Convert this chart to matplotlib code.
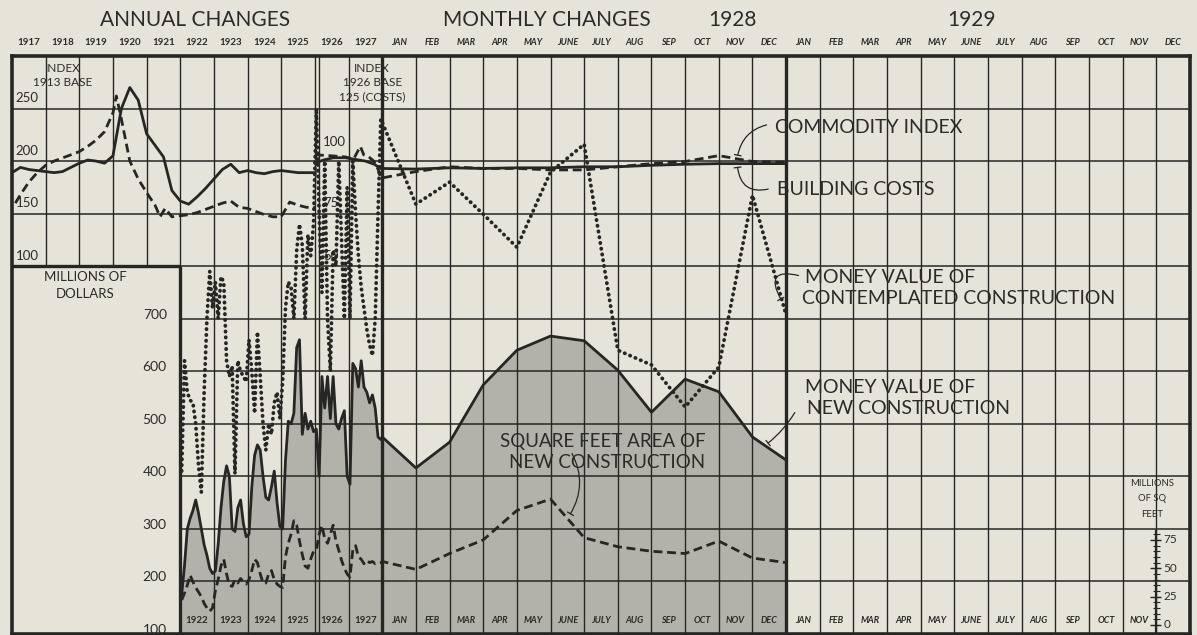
import numpy as np
import matplotlib.pyplot as plt

plt.rcParams['font.family'] = ['Lato', 'DejaVu Sans']

paper = '#e6e4d9'
ink = '#262624'
shade = '#b2b1aa'

# column headings
year_heads = ['1917', '1918', '1919', '1920', '1921', '1922', '1923', '1924', '1925', '1926', '1927']
month_heads = ['JAN', 'FEB', 'MAR', 'APR', 'MAY', 'JUNE', 'JULY', 'AUG', 'SEP', 'OCT', 'NOV', 'DEC']
bottom_years = ['1922', '1923', '1924', '1925', '1926', '1927']

# index numbers, 1913 base (1917-1925)
b13_dates = np.arange(1917, 1926.01, 0.25)
building_1913 = [189, 194, 192, 191, 190, 189, 190, 194, 198, 201, 200, 198, 205, 250, 270, 258,
                 226, 215, 204, 172, 162, 159, 166, 174, 183, 192, 197, 189, 191, 189, 188, 190,
                 191, 190, 189, 189, 189]
c13_dates = [1917.1, 1917.25, 1917.5, 1917.75, 1918.0, 1918.25, 1918.5, 1918.75, 1919.0, 1919.25,
             1919.5, 1919.75, 1920.0, 1920.1, 1920.25, 1920.5, 1920.75, 1921.0, 1921.25, 1921.4,
             1921.55, 1921.75, 1922.0, 1922.25, 1922.5, 1922.75, 1923.0, 1923.25, 1923.5, 1923.75,
             1924.0, 1924.25, 1924.5, 1924.75, 1925.0, 1925.25, 1925.5, 1925.75, 1926.0]
commodity_1913 = [160, 168, 180, 189, 196, 200, 203, 206, 209, 214, 220, 228, 246, 262, 240, 200,
                  183, 170, 158, 147, 155, 147, 148, 149, 151, 154, 157, 160, 162, 156, 155, 152,
                  149, 147, 147, 161, 158, 156, 156]

# index numbers, 1926 base (1926-1927)
b26_dates = [1926.0, 1926.25, 1926.55, 1926.9, 1927.2, 1927.5, 1927.78, 1927.93]
building_1926 = [99, 100.5, 101.6, 101.6, 100.8, 100, 98.4, 96.5]
c26_dates = [1926.0, 1926.5, 1926.9, 1927.15, 1927.35, 1927.45, 1927.6, 1927.75, 1927.88, 1927.95]
commodity_1926 = [103, 102.5, 102, 101, 107, 103, 102, 100, 96, 92]

# 1928, month by month (start of Jan .. end of Dec)
building_1928 = [96.5, 96.2, 96.8, 96.5, 96.8, 96.8, 97.3, 97.3, 98, 98.5, 98.8, 98.8, 98.8]
commodity_1928 = [92, 95, 97.3, 96.5, 96.5, 95.8, 95.8, 97.3, 98.8, 99.8, 102.6, 99.8, 99.5]

# millions of dollars, monthly 1922-1927
new_construction = [
    175, 230, 300, 320, 335, 355, 330, 300, 270, 250, 225, 215,
    220, 270, 340, 390, 420, 400, 300, 295, 340, 355, 310, 285,
    290, 380, 440, 460, 450, 400, 360, 355, 380, 410, 350, 305,
    300, 430, 505, 500, 520, 645, 660, 480, 520, 490, 505, 485,
    490, 400, 590, 530, 590, 510, 590, 500, 490, 510, 525, 400,
    385, 615, 605, 570, 620, 570, 560, 540, 555, 530, 475, 470]
contemplated = [
    410, 620, 560, 545, 540, 500, 420, 370, 560, 700, 790, 720,
    770, 700, 780, 770, 620, 590, 610, 405, 620, 600, 590, 580,
    660, 600, 520, 675, 590, 500, 450, 500, 480, 540, 560, 510,
    580, 720, 770, 760, 700, 830, 880, 840, 700, 860, 820, 880,
    1100, 900, 750, 1000, 700, 600, 830, 800, 1000, 850, 700, 950,
    700, 1000, 900, 820, 760, 720, 680, 650, 630, 700, 900, 1080]
new_1928 = [475, 416, 465, 574, 640, 667, 658, 602, 522, 585, 561, 475, 431]
contemplated_1928 = [1074, 918, 960, 899, 836, 979, 1032, 640, 612, 532, 608, 935, 707]

# millions of square feet
sqft = [
    22, 28, 35, 44, 38, 33, 29, 25, 19, 15, 12, 15,
    30, 40, 52, 58, 45, 35, 34, 40, 37, 41, 38, 36,
    40, 48, 58, 55, 45, 37, 37, 45, 48, 40, 36, 34,
    33, 60, 72, 80, 92, 88, 74, 62, 52, 50, 58, 65,
    66, 80, 88, 76, 72, 80, 88, 74, 66, 57, 50, 45,
    42, 66, 70, 60, 58, 54, 57, 55, 56, 54, 55, 55]
sqft_1928 = [56, 49, 63, 75, 101, 111, 77, 69, 65, 63, 74, 59, 55]


def col(year):
    # one column per year up to 1928, one per month afterwards
    return np.asarray(year, dtype=float) - 1917


x_monthly = col(1922 + (np.arange(72) + 0.5) / 12)
x_1928 = 11 + np.arange(13)

fig = plt.figure(figsize=(11.97, 6.35), dpi=100, facecolor=paper)
ax = fig.add_axes([12 / 1197, 1 / 635, 1178 / 1197, 578 / 635])
ax.set_facecolor(paper)
ax.set_xlim(0, 35)
ax.set_ylim(100, 1200)
ax.set_xticks([])
ax.set_yticks([])
for s in ax.spines.values():
    s.set_linewidth(2.6)
    s.set_color(ink)


def overlay(lo, hi):
    t = ax.twinx()
    t.set_ylim(lo, hi)
    t.set_yticks([])
    t.patch.set_visible(False)
    for s in t.spines.values():
        s.set_visible(False)
    return t


ax13 = overlay(-250, 300)
ax26 = overlay(-125, 150)
axsq = overlay(-8, 502)

# grid: the lower left corner is left blank for the dollar scale
for v in range(200, 1200, 100):
    ax.hlines(v, 0 if v >= 800 else 5, 35, color=ink, lw=1.1, zorder=2)
for c in range(1, 35):
    ax.vlines(c, 800 if c < 5 else 100, 1200, color=ink, lw=1.0, zorder=2)
ax.hlines(800, 0, 5, color=ink, lw=2.4, zorder=3)
ax.vlines(5, 100, 800, color=ink, lw=2.4, zorder=3)
ax.vlines([11, 23], 100, 1200, color=ink, lw=2.4, zorder=3)
ax.vlines(9.12, 100, 1200, color=ink, lw=1.0, zorder=2)

# building volume
x_all = np.r_[x_monthly, x_1928]
new_all = np.r_[new_construction, new_1928]
ax.fill_between(x_all, 100, new_all, color=shade, lw=0, zorder=1)
ax.plot(x_all, new_all, color=ink, lw=2.0, zorder=4)
ax.plot(x_all, np.r_[contemplated, contemplated_1928], color=ink, lw=2.7,
        ls=(0, (0.1, 1.45)), dash_capstyle='round', zorder=4)
axsq.plot(x_all, np.r_[sqft, sqft_1928], color=ink, lw=2.0, ls=(0, (3.2, 1.7)))

# price indexes
ax13.plot(col(b13_dates), building_1913, color=ink, lw=2.0)
ax13.plot(col(c13_dates), commodity_1913, color=ink, lw=2.0, ls=(0, (3.2, 1.7)))
ax26.plot(np.r_[col(b26_dates), x_1928], np.r_[building_1926, building_1928], color=ink, lw=2.0)
ax26.plot(np.r_[col(c26_dates), x_1928], np.r_[commodity_1926, commodity_1928], color=ink,
          lw=2.0, ls=(0, (3.2, 1.7)))

txt = dict(color='#2b2b29')

# headings above the frame
for x, lab in [(5.45, 'ANNUAL CHANGES'), (15.9, 'MONTHLY CHANGES'), (21.4, '1928'),
               (28.5, '1929')]:
    ax.text(x, 1268, lab, ha='center', va='center', fontsize=15, **txt)
for i, lab in enumerate(year_heads):
    ax.text(i + 0.5, 1226, lab, ha='center', va='center', fontsize=7, fontweight='bold', **txt)
for i, lab in enumerate(month_heads * 2):
    ax.text(11 + i + 0.5, 1226, lab, ha='center', va='center', fontsize=6.5, style='italic',
            fontweight='bold', **txt)

# labels along the bottom row
for i, lab in enumerate(bottom_years):
    ax.text(5 + i + 0.5, 126, lab, ha='center', va='center', fontsize=7, fontweight='bold',
            zorder=5, **txt)
for i, lab in enumerate(month_heads + month_heads[:11]):
    ax.text(11 + i + 0.5, 126, lab, ha='center', va='center', fontsize=6.5, style='italic',
            fontweight='bold', zorder=5, **txt)

# index scales
ax.text(1.5, 1177, 'INDEX', ha='center', va='center', fontsize=8.5, **txt)
ax.text(1.5, 1150, '1913 BASE', ha='center', va='center', fontsize=8.5, **txt)
ax13.text(0.1, 254, '250', ha='left', va='bottom', fontsize=9.5, **txt)
for v in [200, 150, 100]:
    ax13.text(0.1, v + 4, str(v), ha='left', va='bottom', fontsize=9.5, **txt)
ax.text(10.7, 1177, 'INDEX', ha='center', va='center', fontsize=8.5, **txt)
ax.text(10.7, 1150, '1926 BASE', ha='center', va='center', fontsize=8.5, **txt)
ax.text(10.7, 1122, '125 (COSTS)', ha='center', va='center', fontsize=8.5, **txt)
ax26.text(9.25, 109, '100', ha='left', va='center', fontsize=9.5, **txt)
for v in [75, 50]:
    ax26.text(9.25, v + 2, str(v), ha='left', va='bottom', fontsize=9.5, **txt)

# dollar scale
ax.text(2.17, 780, 'MILLIONS OF', ha='center', va='center', fontsize=9.5, **txt)
ax.text(2.17, 748, 'DOLLARS', ha='center', va='center', fontsize=9.5, **txt)
for v in range(100, 800, 100):
    ax.text(4.6, v + 8, str(v), ha='right', va='center', fontsize=10, **txt)

# square feet scale in the last column
ax.text(33.87, 386, 'MILLIONS', ha='center', va='center', fontsize=6.8, **txt)
ax.text(33.87, 357, 'OF SQ', ha='center', va='center', fontsize=6.8, **txt)
ax.text(33.87, 328, 'FEET', ha='center', va='center', fontsize=6.8, **txt)
axsq.vlines(34, -8, 84, color=ink, lw=1.6)
axsq.hlines(np.arange(0, 85, 5), 33.9, 34.1, color=ink, lw=0.8)
axsq.hlines([0, 25, 50, 75], 33.82, 34.14, color=ink, lw=1.0)
for v in [75, 50, 25, 0]:
    axsq.text(34.22, v, str(v), ha='left', va='center', fontsize=8.5, **txt)

# series captions with their leader lines
cap = dict(ha='left', va='center', fontsize=14, **txt)
ax.text(22.67, 1063, 'COMMODITY INDEX', **cap)
ax.text(22.73, 945, 'BUILDING COSTS', **cap)
ax.text(23.56, 778, 'MONEY VALUE OF', **cap)
ax.text(23.47, 739, 'CONTEMPLATED CONSTRUCTION', **cap)
ax.text(23.56, 570, 'MONEY VALUE OF', **cap)
ax.text(23.62, 530, 'NEW CONSTRUCTION', **cap)
ax.text(17.56, 467, 'SQUARE FEET AREA OF', ha='center', va='center', fontsize=13.5, zorder=5,
        **txt)
ax.text(17.68, 427, 'NEW CONSTRUCTION', ha='center', va='center', fontsize=13.5, zorder=5, **txt)

lead = dict(arrowstyle='-[, widthB=0.25, lengthB=0', color=ink, lw=0.9)
ax.annotate('', xy=(21.55, 101.5), xycoords=ax26.transData, xytext=(22.5, 1070),
            textcoords=ax.transData,
            arrowprops=dict(connectionstyle='arc3,rad=0.35', **lead))
ax.annotate('', xy=(21.55, 98.3), xycoords=ax26.transData, xytext=(22.55, 948),
            textcoords=ax.transData,
            arrowprops=dict(connectionstyle='arc3,rad=-0.6', **lead))
ax.annotate('', xy=(22.88, 733), xytext=(23.45, 781),
            arrowprops=dict(connectionstyle='arc3,rad=1.2', **lead))
ax.annotate('', xy=(22.4, 460), xytext=(23.3, 526),
            arrowprops=dict(connectionstyle='arc3,rad=-0.1', **lead))
ax.annotate('', xy=(16.55, 96), xycoords=axsq.transData, xytext=(16.6, 448),
            textcoords=ax.transData,
            arrowprops=dict(connectionstyle='arc3,rad=-0.3', **lead))

fig.savefig('out.png', dpi=100, facecolor=paper)
